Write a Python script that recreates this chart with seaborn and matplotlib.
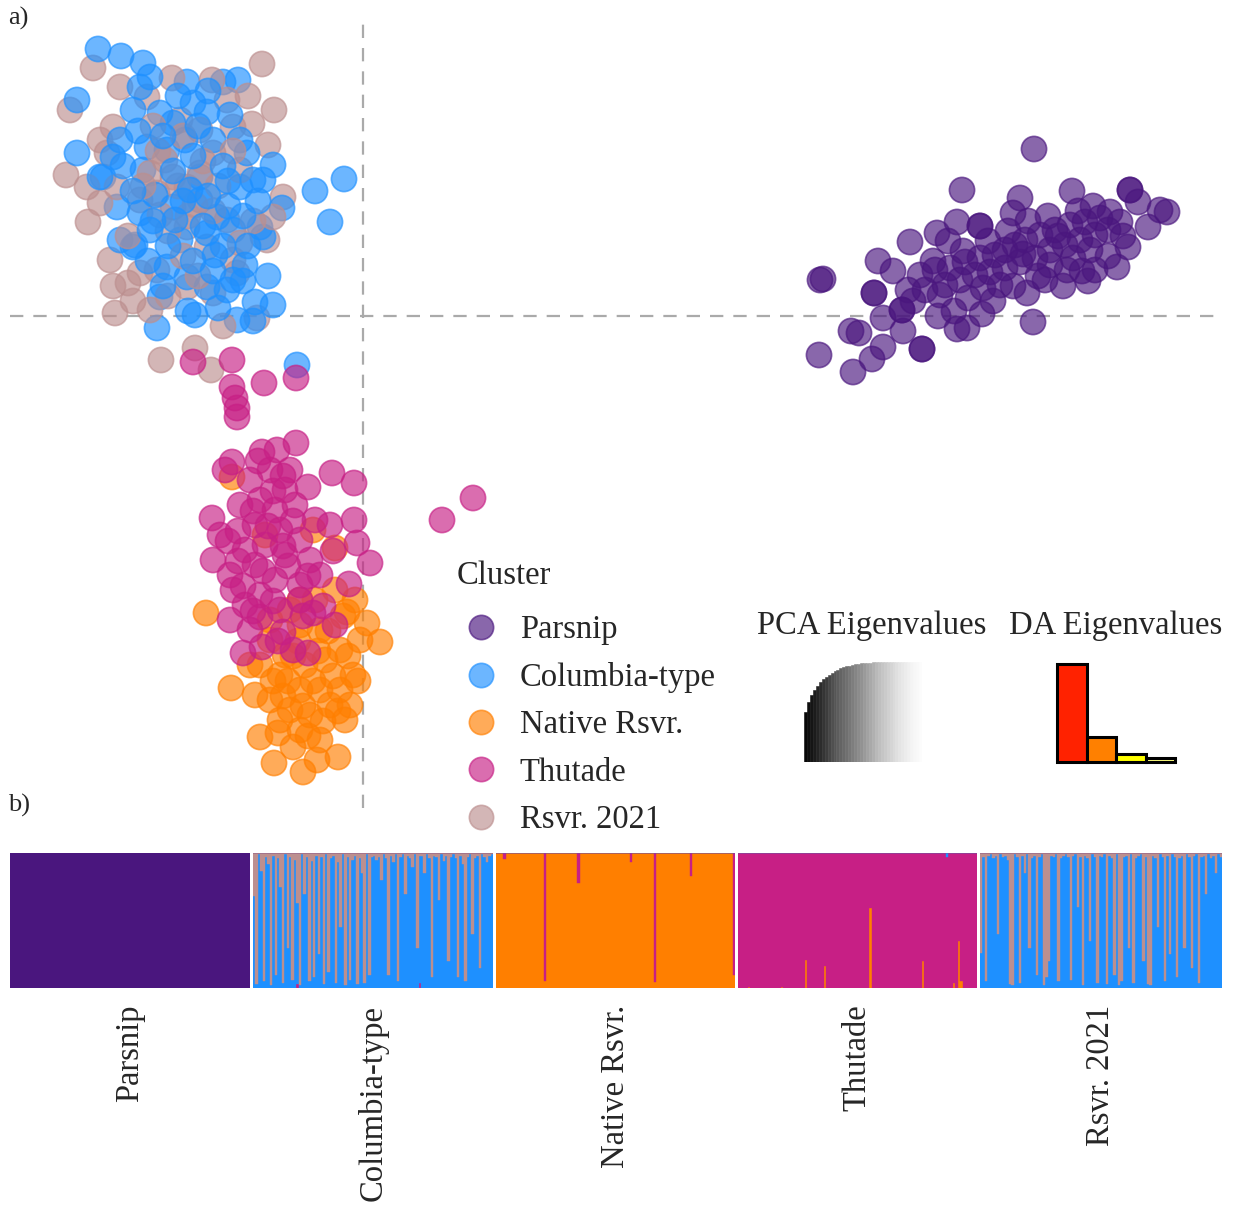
import numpy as np
import pandas as pd
import matplotlib
matplotlib.use("Agg")
import matplotlib.pyplot as plt
from matplotlib.lines import Line2D
import seaborn as sns

sns.set_theme(style="white")
plt.rcParams["font.family"] = ["Liberation Serif", "DejaVu Serif"]

# ---------------------------------------------------------------- data
clusters = ["Parsnip", "Columbia-type", "Native Rsvr.", "Thutade", "Rsvr. 2021"]
cluster_colors = ["#4A167E", "#1E90FF", "#FF7F00", "#C71F85", "#BC8F8F"]

# DAPC scores (LD1, LD2) per individual
parsnip_scores = [
    (67.1, 16.7), (59.9, 12.6), (65.7, 11.8), (70.9, 12.5), (76.7, 12.6), (80.4, 10.4),
    (79.7, 10.6), (77.5, 11.4), (65.0, 10.3), (61.7, 9.0), (59.4, 9.4), (54.7, 7.4),
    (57.4, 8.3), (45.7, 3.6), (46.0, 3.7), (51.1, 2.3), (54.5, 2.6), (53.9, 0.6),
    (52.0, -0.2), (48.8, -1.5), (49.6, -1.7), (45.6, -3.9), (49.0, -5.6), (50.9, -4.3),
    (52.0, -3.1), (55.9, -3.3), (59.1, 0.5), (59.4, -1.3), (60.4, -1.2), (61.9, 0.2),
    (67.0, -0.6), (75.4, 4.9), (76.5, 6.9), (78.5, 8.9), (73.2, 4.6), (71.9, 4.5),
    (70.4, 4.6), (66.4, 2.3), (68.2, 3.6), (55.7, 4.1), (57.2, 4.6), (58.7, 4.8),
    (60.2, 5.4), (61.7, 5.8), (63.2, 6.1), (64.2, 6.6), (65.2, 7.1), (66.2, 7.6),
    (67.7, 8.1), (69.2, 8.6), (70.7, 9.1), (72.2, 9.4), (73.7, 9.8), (74.7, 10.4),
    (56.2, 2.6), (58.2, 3.1), (59.7, 3.6), (61.2, 4.1), (62.7, 4.4), (64.2, 4.8),
    (65.7, 5.4), (67.2, 5.8), (68.7, 6.6), (70.2, 7.1), (71.7, 7.6), (73.2, 8.1),
    (74.5, 8.6), (75.7, 9.4), (57.7, 2.1), (63.7, 3.1), (68.7, 5.1), (72.7, 6.6),
    (51.1, 2.3), (55.9, -3.3), (61.7, 9.0), (76.7, 12.6), (53.9, 0.6),
    (57.0, 5.5), (60.0, 6.5), (62.5, 7.5), (64.5, 8.5), (66.5, 9.5), (68.5, 10.0),
    (71.5, 10.5), (73.0, 11.0), (55.0, 1.5), (57.5, 0.0), (60.5, 1.8), (63.0, 1.5),
    (65.0, 3.0), (67.5, 4.0), (70.0, 3.0), (72.5, 3.5), (74.5, 6.0), (76.0, 8.0),
    (53.0, 4.5), (51.5, 5.5), (62.0, 2.8), (66.0, 6.2), (69.5, 8.0), (71.0, 5.8),
    (58.5, 7.5), (54.0, -1.5),
]

columbia_scores = [
    (-26.5, 26.7), (-24.2, 26.0), (-22.0, 25.3), (-28.6, 21.6), (-12.5, 23.6), (-17.6, 23.4),
    (-14.0, 23.4), (-28.6, 16.3), (-1.9, 13.7), (-4.8, 12.5), (-3.3, 9.4), (-9.0, 1.1),
    (-10.8, 1.4), (-12.6, -0.4), (-16.8, 0.1), (-20.6, -1.2), (-20.3, 1.9), (-6.6, -4.9),
    (-9.0, 15.1), (-10.0, 13.6), (-8.1, 10.8), (-26.0, 13.9), (-24.3, 7.6), (-22.8, 7.1),
    (-22.0, 14.6), (-23.0, 20.6), (-20.3, 20.3), (-15.6, 20.4), (-13.3, 20.1), (-19.0, 19.3),
    (-21.6, 16.9), (-19.6, 16.6), (-16.3, 13.9), (-12.3, 12.9), (-24.6, 10.9), (-22.3, 10.3),
    (-19.0, 10.9), (-16.3, 11.6), (-14.6, 9.9), (-13.0, 8.6), (-10.3, 8.9), (-10.0, 7.9),
    (-23.0, 6.9), (-18.3, 7.6), (-15.6, 8.3), (-19.6, 4.9), (-17.6, 3.9), (-15.6, 2.9),
    (-13.6, 2.6), (-13.0, 3.6), (-26.3, 13.9), (-25.0, 15.9), (-24.3, 17.6), (-17.0, 21.3),
    (-15.0, 17.6), (-11.0, 13.6), (-11.6, 16.3), (-22.3, 22.9), (-21.3, 23.9), (-17.3, 12.6),
    (-20.8, 12.1), (-14.8, 6.1), (-11.8, 5.1), (-17.8, 17.6), (-12.3, 17.6), (-18.8, 9.6),
    (-21.3, 8.6), (-20.0, 18.0), (-17.0, 16.0), (-14.0, 15.0), (-19.0, 14.5), (-15.5, 12.0),
    (-13.5, 11.0), (-18.0, 11.5), (-21.0, 9.5), (-16.0, 9.0), (-12.0, 10.0), (-19.5, 7.0),
    (-14.0, 7.0), (-11.5, 7.0), (-17.0, 5.5), (-15.0, 4.5), (-20.0, 3.0), (-12.0, 3.5),
    (-23.0, 12.5), (-24.0, 15.0), (-22.5, 18.5), (-18.5, 22.0), (-15.5, 22.5), (-10.5, 11.5),
    (-9.5, 4.0), (-11.0, -0.5), (-17.5, 0.5), (-14.5, 0.8), (-21.5, 5.5), (-16.5, 19.0),
    (-13.5, 13.5),
]

rsvr2021_scores = [
    (-27.0, 24.8), (-10.1, 25.2), (-8.9, 20.6), (-29.3, 20.6), (-29.7, 14.1), (-27.5, 9.4),
    (-25.3, 5.6), (-24.8, 0.3), (-10.6, -0.2), (-11.1, 19.2), (-9.5, 17.1), (-8.0, 11.9),
    (-19.1, 23.8), (-15.1, 23.6), (-20.2, -4.4), (-16.8, -3.2), (-15.2, -5.4), (-9.6, 7.6),
    (-23.5, 3.3), (-21.3, 0.6), (-21.6, 21.9), (-24.3, 22.9), (-18.3, 19.6), (-13.6, 21.6),
    (-13.0, 18.9), (-25.0, 18.9), (-26.3, 17.6), (-25.6, 16.3), (-21.3, 14.3), (-19.0, 13.9),
    (-20.6, 12.3), (-22.3, 11.6), (-17.6, 12.9), (-15.0, 16.3), (-12.3, 14.6), (-26.3, 11.3),
    (-24.6, 12.9), (-16.3, 14.3), (-13.6, 9.6), (-17.6, 8.9), (-15.6, 6.9), (-13.0, 5.6),
    (-12.6, 4.3), (-22.3, 4.3), (-20.6, 4.6), (-17.6, 2.9), (-15.0, 2.3), (-27.6, 12.9),
    (-9.0, 9.9), (-12.3, 7.3), (-19.8, 15.6), (-16.8, 11.1), (-20.3, 10.1), (-16.3, 18.6),
    (-18.5, 13.0), (-16.0, 15.5), (-20.5, 16.5), (-14.5, 13.0), (-17.5, 10.0), (-19.5, 8.5),
    (-15.0, 10.5), (-22.0, 13.0), (-18.0, 6.0), (-16.5, 4.0), (-23.5, 8.0), (-13.0, 16.5),
    (-21.0, 19.0), (-18.0, 18.0), (-11.5, 22.0), (-19.5, 2.0), (-14.0, -1.0), (-23.0, 1.5),
    (-25.0, 3.0), (-11.0, 9.5),
]

thutade_scores = [
    (-17.0, -4.6), (-13.1, -4.4), (-9.9, -6.7), (-6.7, -6.2), (-13.1, -7.1), (-12.8, -8.2),
    (-12.6, -9.2), (-12.6, -10.1), (-6.7, -12.7), (-10.1, -13.6), (-13.1, -14.6), (-8.6, -13.4),
    (-3.1, -15.7), (-0.9, -16.7), (-5.5, -17.1), (-15.1, -20.2), (-14.3, -21.9), (-0.9, -20.4),
    (7.9, -20.4), (11.0, -18.2), (-0.6, -22.7), (0.7, -24.7), (-1.4, -26.8), (-15.0, -24.4),
    (-13.0, -27.4), (-13.3, -30.4), (-10.3, -30.1), (-12.0, -33.7), (-10.1, -33.1), (-5.5, -33.7),
    (-2.8, -30.9), (-5.0, -29.7), (-7.0, -33.4), (-8.0, -31.6), (-11.3, -16.4), (-9.3, -15.4),
    (-7.8, -17.4), (-10.3, -18.4), (-12.3, -18.9), (-8.8, -19.4), (-6.8, -18.9), (-10.8, -20.9),
    (-8.3, -21.4), (-6.3, -22.4), (-9.8, -22.9), (-11.8, -23.4), (-13.3, -25.9), (-10.8, -24.9),
    (-7.8, -23.9), (-5.3, -24.4), (-8.8, -26.4), (-6.3, -26.9), (-10.3, -27.9), (-11.8, -28.9),
    (-4.3, -25.9), (-3.3, -20.9), (-4.8, -20.4), (-6.3, -28.4), (-8.3, -29.4), (-11.3, -31.4),
    (-13.8, -15.4), (-7.3, -15.4), (-9.0, -17.5), (-11.0, -19.5), (-7.0, -20.5), (-9.5, -21.0),
    (-12.5, -21.5), (-8.0, -23.0), (-10.0, -25.5), (-12.5, -24.5), (-7.5, -25.0), (-9.0, -28.5),
    (-11.0, -29.5), (-6.0, -30.0), (-8.5, -32.5), (-10.5, -14.5), (-8.0, -16.0), (-13.5, -22.5),
    (-5.5, -26.0), (-3.0, -23.5), (-4.0, -29.0), (-12.0, -27.0),
]

native_scores = [
    (-15.7, -29.7), (-13.2, -37.2), (-10.3, -42.1), (-8.9, -44.7), (-6.0, -45.6), (-2.5, -44.1),
    (-4.6, -44.4), (1.7, -32.6), (0.4, -30.7), (-1.0, -35.9), (-1.3, -38.9), (-1.6, -29.6),
    (-5.0, -21.4), (-9.8, -21.9), (-13.1, -16.1), (-2.8, -23.2), (-7.0, -43.1), (-8.5, -41.7),
    (-7.3, -29.4), (-6.3, -30.9), (-4.3, -31.4), (-9.3, -32.4), (-7.8, -33.9), (-5.8, -34.9),
    (-3.8, -34.4), (-2.3, -33.4), (-10.3, -34.9), (-8.3, -35.9), (-6.3, -37.4), (-4.3, -37.4),
    (-2.3, -37.4), (-9.3, -38.4), (-7.3, -39.4), (-5.3, -39.9), (-3.3, -38.9), (-1.8, -40.4),
    (-6.3, -41.4), (-4.3, -42.4), (-8.3, -40.4), (-10.8, -37.9), (-0.3, -32.4), (-9.3, -30.4),
    (-11.3, -34.9), (-4.8, -28.4), (-2.8, -27.4), (-0.8, -28.4), (-6.3, -28.4),
    (-6.5, -32.5), (-4.5, -33.5), (-3.0, -36.0), (-5.0, -36.5), (-7.5, -36.5), (-6.0, -39.0),
    (-4.0, -40.5), (-2.5, -39.5), (-8.0, -38.0), (-5.5, -42.0), (-3.5, -31.5), (-1.5, -34.0),
    (-2.0, -30.0), (-0.5, -36.5), (-7.0, -34.0), (-9.0, -36.5),
]

# eigenvalue insets
pca_cumvar = [0.50, 0.60, 0.67, 0.72, 0.765, 0.80, 0.83, 0.855, 0.875, 0.895,
              0.91, 0.925, 0.937, 0.948, 0.957, 0.965, 0.972, 0.978, 0.983, 0.987,
              0.99, 0.993, 0.995, 0.997, 0.998, 0.999, 1.0, 1.0, 1.0, 1.0,
              1.0, 1.0, 1.0, 1.0, 1.0, 1.0, 1.0, 1.0, 1.0, 1.0]
da_eig = [100, 26, 8, 4]
da_colors = ["#FF2200", "#FF8000", "#FFFF00", "#FFFF80"]

# membership probabilities (compoplot), 100 individuals per group
parsnip_n = 100
columbia_blue = [
    0.68, 0.03, 0.99, 0.87, 0.05, 0.97, 0.92, 0.02, 0.98, 0.10,
    0.96, 0.75, 0.04, 0.99, 0.30, 0.97, 0.06, 0.95, 0.60, 0.02,
    0.99, 0.70, 0.97, 0.05, 0.94, 0.08, 0.98, 0.25, 0.97, 0.03,
    0.99, 0.12, 0.96, 0.98, 0.04, 0.93, 0.45, 0.99, 0.02, 0.97,
    0.06, 0.95, 0.98, 0.03, 0.96, 0.85, 0.04, 0.99, 0.10, 0.97,
    0.98, 0.95, 0.97, 0.80, 0.99, 0.96, 0.10, 0.98, 0.93, 0.99,
    0.05, 0.97, 0.99, 0.70, 0.98, 0.96, 0.90, 0.99, 0.30, 0.94,
    0.98, 0.85, 0.99, 0.96, 0.08, 0.98, 0.97, 0.65, 0.99, 0.94,
    0.98, 0.20, 0.97, 0.99, 0.96, 0.08, 0.98, 0.92, 0.05, 0.97,
    0.99, 0.40, 0.96, 0.98, 0.15, 0.99, 0.97, 0.93, 0.98, 0.99,
]
columbia_magenta = {18: 0.03, 69: 0.04}
native_magenta = {3: 0.045, 20: 0.95, 34: 0.22, 56: 0.07, 66: 0.955, 81: 0.17, 99: 0.9}
thutade_orange = {4: 0.01, 18: 0.01, 28: 0.21, 36: 0.16, 55: 0.59, 77: 0.2,
                  90: 0.04, 92: 0.35, 93: 0.055}
thutade_blue = {87: 0.03}
rsvr2021_blue = [
    0.26, 0.97, 0.05, 0.98, 0.99, 0.96, 0.98, 0.40, 0.99, 0.97,
    0.98, 0.95, 0.03, 0.02, 0.99, 0.97, 0.04, 0.98, 0.85, 0.99,
    0.30, 0.96, 0.98, 0.10, 0.97, 0.99, 0.02, 0.08, 0.20, 0.98,
    0.97, 0.99, 0.05, 0.96, 0.98, 0.99, 0.97, 0.06, 0.98, 0.99,
    0.60, 0.97, 0.02, 0.98, 0.96, 0.35, 0.99, 0.97, 0.04, 0.98,
    0.97, 0.99, 0.03, 0.98, 0.96, 0.10, 0.99, 0.02, 0.05, 0.97,
    0.98, 0.30, 0.99, 0.04, 0.96, 0.98, 0.99, 0.20, 0.97, 0.03,
    0.02, 0.98, 0.96, 0.45, 0.99, 0.97, 0.05, 0.98, 0.25, 0.99,
    0.97, 0.08, 0.96, 0.98, 0.30, 0.99, 0.97, 0.15, 0.98, 0.99,
    0.04, 0.97, 0.98, 0.70, 0.99, 0.96, 0.98, 0.85, 0.99, 0.97,
]

# ---------------------------------------------------------------- figure
W, H = 1237, 1206
fig = plt.figure(figsize=(W / 100, H / 100), dpi=100)
FS = 23.5
palette = dict(zip(clusters, cluster_colors))


def fig_rect(x0, y0, x1, y1):
    return [x0 / W, 1 - y1 / H, (x1 - x0) / W, (y1 - y0) / H]


def score_frame(name, pts):
    arr = np.array(pts)
    return pd.DataFrame({"LD1": arr[:, 0], "LD2": arr[:, 1], "Cluster": name})


# Columbia-type and Rsvr. 2021 individuals are plotted interleaved
col_df = score_frame("Columbia-type", columbia_scores)
rsv_df = score_frame("Rsvr. 2021", rsvr2021_scores)
col_df["order"] = np.arange(len(col_df)) * 2 + 1
rsv_df["order"] = np.arange(len(rsv_df)) * 2
mixed = pd.concat([rsv_df, col_df]).sort_values("order").drop(columns="order")

scores = pd.concat([score_frame("Parsnip", parsnip_scores), mixed,
                    score_frame("Native Rsvr.", native_scores),
                    score_frame("Thutade", thutade_scores)], ignore_index=True)

# a) DAPC scatter
ax = fig.add_axes(fig_rect(10, 20, 1222, 808))
ax.axhline(0, color="#AAAAAA", lw=1.6, ls=(0, (6, 4.5)), zorder=0)
ax.axvline(0, color="#AAAAAA", lw=1.6, ls=(0, (6, 4.5)), zorder=0)
sns.scatterplot(data=scores, x="LD1", y="LD2", hue="Cluster", palette=palette,
                s=330, alpha=0.65, edgecolor="face", linewidth=1.2, legend=False,
                ax=ax, zorder=2)
ax.set_xlim(-35.3, 85.9)
ax.set_ylim(-49.2, 29.6)
ax.axis("off")

handles = [Line2D([0], [0], marker="o", ls="", markersize=17.5, markerfacecolor=c,
                  markeredgecolor=c, markeredgewidth=1.2, alpha=0.65)
           for c in cluster_colors]
fig.text(457 / W, 1 - 576 / H, "Cluster", ha="left", va="center", fontsize=FS)
fig.legend(handles, clusters, loc="upper left",
           bbox_to_anchor=(461 / W, 1 - 614.5 / H), frameon=False,
           prop={"size": FS}, handlelength=1.2, handletextpad=0.6,
           labelspacing=0.52, borderpad=0, borderaxespad=0)

# PCA eigenvalue inset
ax_pca = fig.add_axes(fig_rect(804, 662, 922, 762))
greys = sns.color_palette("Greys_r", len(pca_cumvar))
ax_pca.bar(np.arange(len(pca_cumvar)), pca_cumvar, width=1.0, color=greys,
           linewidth=0.4, edgecolor=greys)
ax_pca.set_xlim(-0.5, len(pca_cumvar) - 0.5)
ax_pca.set_ylim(0, 1)
ax_pca.axis("off")
ax_pca.text(0.576, 1.36, "PCA Eigenvalues", transform=ax_pca.transAxes,
            ha="center", va="center", fontsize=FS)

# DA eigenvalue inset
ax_da = fig.add_axes(fig_rect(1057, 662, 1175, 762))
ax_da.bar(np.arange(len(da_eig)), da_eig, width=1.0, color=da_colors,
          edgecolor="black", linewidth=2.2, clip_on=False)
ax_da.set_xlim(-0.5, len(da_eig) - 0.5)
ax_da.set_ylim(0, max(da_eig) * 1.02)
ax_da.axis("off")
ax_da.text(0.5, 1.36, "DA Eigenvalues", transform=ax_da.transAxes,
           ha="center", va="center", fontsize=FS)

# b) membership probabilities
tables = []
# Parsnip
t = {c: np.zeros(parsnip_n) for c in clusters}
t["Parsnip"][:] = 1.0
tables.append(t)
# Columbia-type
n = len(columbia_blue)
t = {c: np.zeros(n) for c in clusters}
t["Columbia-type"] = np.array(columbia_blue)
for i, v in columbia_magenta.items():
    t["Thutade"][i] = v
t["Rsvr. 2021"] = 1 - t["Columbia-type"] - t["Thutade"]
tables.append(t)
# Native Rsvr.
n = 100
t = {c: np.zeros(n) for c in clusters}
for i, v in native_magenta.items():
    t["Thutade"][i] = v
t["Native Rsvr."] = 1 - t["Thutade"]
tables.append(t)
# Thutade
t = {c: np.zeros(n) for c in clusters}
for i, v in thutade_orange.items():
    t["Native Rsvr."][i] = v
for i, v in thutade_blue.items():
    t["Columbia-type"][i] = v
t["Thutade"] = 1 - t["Native Rsvr."] - t["Columbia-type"]
tables.append(t)
# Rsvr. 2021
n = len(rsvr2021_blue)
t = {c: np.zeros(n) for c in clusters}
t["Columbia-type"] = np.array(rsvr2021_blue)
t["Rsvr. 2021"] = 1 - t["Columbia-type"]
tables.append(t)

stack_order = ["Native Rsvr.", "Thutade", "Columbia-type", "Rsvr. 2021", "Parsnip"]
panel_edges = [(10, 250), (253, 493), (496, 735), (738, 977), (980, 1222)]
for name, t, (x0, x1) in zip(clusters, tables, panel_edges):
    axb = fig.add_axes(fig_rect(x0, 853, x1, 988))
    n = len(t[name])
    idx = np.arange(n)
    bottom = np.zeros(n)
    for c in stack_order:
        col = palette[c]
        axb.bar(idx, t[c], bottom=bottom, width=1.0, color=col, edgecolor=col,
                linewidth=0.3)
        bottom = bottom + t[c]
    axb.set_xlim(-0.5, n - 0.5)
    axb.set_ylim(0, 1)
    for s in axb.spines.values():
        s.set_visible(False)
    axb.set_yticks([])
    axb.set_xticks([(n - 1) / 2])
    axb.set_xticklabels([name], rotation=90, fontsize=FS)
    axb.tick_params(axis="x", length=0, pad=12)
    axb.grid(False)

fig.text(8 / W, 1 - 18 / H, "a)", ha="left", va="center", fontsize=19)
fig.text(8 / W, 1 - 805 / H, "b)", ha="left", va="center", fontsize=19)

fig.savefig("out.png", dpi=100, facecolor="white")
